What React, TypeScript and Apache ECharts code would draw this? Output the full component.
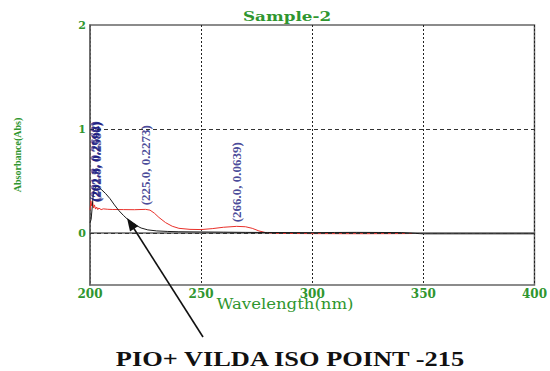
import { useEffect, useRef } from "react";
import * as echarts from "echarts";

// Black trace (wavelength nm, absorbance)
const blackWl = [200.0, 200.5, 201.0, 201.5, 202, 203, 204, 205, 207, 209, 211, 213, 215, 217, 219, 221, 223, 226, 230, 235, 240, 250, 260, 270, 280, 290, 300, 310, 320, 330, 340, 350, 400];
const blackAbs = [0.10, 0.13, 0.25, 0.38, 0.42, 0.45, 0.44, 0.42, 0.38, 0.33, 0.27, 0.215, 0.17, 0.13, 0.10, 0.07, 0.048, 0.03, 0.02, 0.015, 0.012, 0.01, 0.008, 0.006, 0.005, 0.004, 0.003, 0.005, 0.006, 0.005, 0.004, -0.008, -0.008];

// Red trace
const redWl = [200.0, 200.4, 200.8, 201.2, 201.6, 202, 202.5, 203, 203.5, 204, 205, 206, 208, 210, 215, 220, 225, 227, 229, 231, 234, 237, 240, 245, 250, 255, 260, 266, 270, 273, 276, 279, 285, 300, 320, 340, 345];
const redAbs = [0.22, 0.31, 0.26, 0.30, 0.24, 0.27, 0.23, 0.25, 0.225, 0.24, 0.225, 0.232, 0.228, 0.226, 0.225, 0.224, 0.2273, 0.22, 0.19, 0.15, 0.10, 0.065, 0.045, 0.035, 0.033, 0.042, 0.055, 0.0639, 0.06, 0.045, 0.02, 0.004, -0.004, -0.006, -0.007, -0.006, -0.005];

// Peak pick labels
const peakWl = [201.8, 202.3, 202.8, 225.0, 266.0];
const peakAbs = [0.2662, 0.2598, 0.2580, 0.2273, 0.0639];

// Dashed horizontal reference levels
const gridLevels = [0, 1];

const GREEN = "#2f962f";

export default function App() {
  const ref = useRef<HTMLDivElement>(null);
  useEffect(() => {
    if (!ref.current) return;
    const chart = echarts.init(ref.current, null, { renderer: "svg" });
    const black = blackWl.map((w, i) => [w, blackAbs[i]]);
    const red = redWl.map((w, i) => [w, redAbs[i]]);
    const peaks = peakWl.map((w, i) => [w, peakAbs[i]]);
    chart.setOption({
      animation: false,
      backgroundColor: "#ffffff",
      grid: {
        left: 90,
        right: 12,
        top: 25,
        bottom: 86,
        show: true,
        borderColor: "#666",
        borderWidth: 1.5,
      },
      xAxis: {
        type: "value",
        min: 200,
        max: 400,
        interval: 50,
        axisLine: { show: true, lineStyle: { color: "#666", width: 1.5 } },
        axisTick: { show: false },
        axisLabel: { color: GREEN, fontFamily: "DejaVu Serif", fontWeight: "bold", fontSize: 12, margin: 3 },
        splitLine: { show: true, lineStyle: { color: "#222", type: [2, 2], width: 1 } },
      },
      yAxis: {
        type: "value",
        min: -0.5,
        max: 2,
        interval: 0.5,
        axisLine: { show: true, lineStyle: { color: "#666", width: 1.5 } },
        axisTick: { show: false },
        axisLabel: {
          color: GREEN,
          fontFamily: "DejaVu Serif",
          fontWeight: "bold",
          fontSize: 11,
          margin: 4,
          formatter: (v: number) => (Number.isInteger(v) ? String(v) : ""),
        },
        splitLine: { show: false },
        name: "Absorbance(Abs)",
        nameLocation: "middle",
        nameGap: 68,
        nameTextStyle: { color: GREEN, fontFamily: "Liberation Serif", fontWeight: "bold", fontSize: 10 },
      },
      series: [
        {
          type: "line",
          data: red,
          showSymbol: false,
          lineStyle: { color: "#e8302a", width: 1 },
          z: 3,
          markLine: {
            silent: true,
            symbol: "none",
            label: { show: false },
            lineStyle: { color: "#333", type: [4, 3], width: 1 },
            data: gridLevels.map((v) => ({ yAxis: v })),
          },
        },
        {
          type: "line",
          data: black,
          showSymbol: false,
          lineStyle: { color: "#1a1a1a", width: 1 },
          z: 4,
        },
        {
          type: "scatter",
          data: peaks,
          symbolSize: 0,
          z: 5,
          label: {
            show: true,
            position: "top",
            rotate: 90,
            align: "left",
            verticalAlign: "middle",
            distance: 4,
            color: "#1a1a80",
            fontFamily: "Liberation Serif",
            fontWeight: "bold",
            fontSize: 13,
            formatter: (p: any) => `(${p.value[0].toFixed(1)}, ${p.value[1].toFixed(4)})`,
          },
        },
      ],
      graphic: [
        {
          type: "text",
          x: 287,
          y: 16,
          scaleX: 1.4,
          style: {
            text: "Sample-2",
            fill: GREEN,
            font: "bold 12px 'DejaVu Serif'",
            textAlign: "center",
            textVerticalAlign: "middle",
          },
        },
        {
          type: "text",
          x: 285,
          y: 304,
          scaleX: 1.18,
          style: {
            text: "Wavelength(nm)",
            fill: GREEN,
            font: "14px 'DejaVu Serif'",
            textAlign: "center",
            textVerticalAlign: "middle",
          },
        },
        {
          type: "line",
          shape: { x1: 203, y1: 337, x2: 131, y2: 224 },
          style: { stroke: "#111", lineWidth: 1.6 },
          z: 10,
        },
        {
          type: "polygon",
          shape: { points: [[127, 218], [138.4, 226.0], [130.0, 231.6]] },
          style: { fill: "#111" },
          z: 10,
        },
        {
          type: "text",
          x: 290,
          y: 359,
          scaleX: 1.32,
          style: {
            text: "PIO+ VILDA ISO POINT -215",
            fill: "#111",
            font: "bold 20px 'Liberation Serif'",
            textAlign: "center",
            textVerticalAlign: "middle",
          },
        },
      ],
    });
    return () => chart.dispose();
  }, []);
  return <div ref={ref} style={{ position: "fixed", left: 0, top: 0, width: 550, height: 371 }} />;
}
